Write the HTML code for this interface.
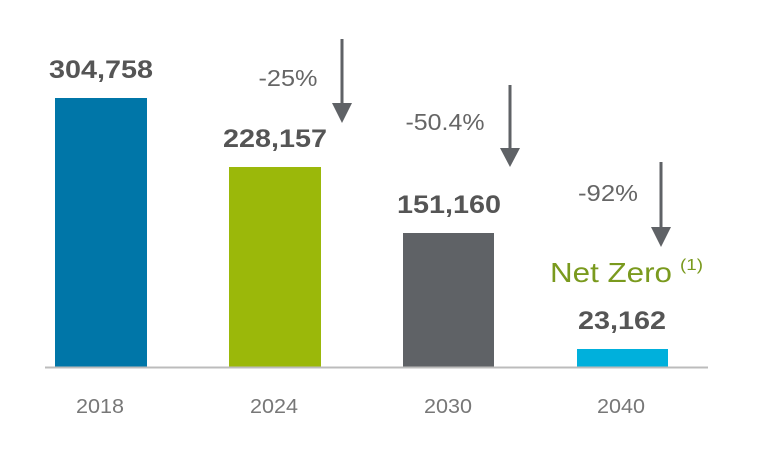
<!DOCTYPE html>
<html><head><meta charset="utf-8"><style>
html,body{margin:0;padding:0;background:#fff}
svg{display:block}
text{font-family:"Liberation Sans",sans-serif}
</style></head><body>
<svg width="768" height="464" viewBox="0 0 768 464">
<rect x="55" y="98" width="92" height="269" fill="#0076a8"/>
<rect x="229" y="167" width="92" height="200" fill="#9bb80a"/>
<rect x="403" y="233" width="91" height="134" fill="#5f6266"/>
<rect x="577" y="349" width="91" height="18" fill="#00b0dc"/>
<line x1="45" y1="367.5" x2="708" y2="367.5" stroke="#bcbcbc" stroke-width="2"/>
<g font-weight="bold" font-size="25" fill="#555" text-anchor="middle">
<text x="101" y="78" textLength="104" lengthAdjust="spacingAndGlyphs">304,758</text>
<text x="275" y="147" textLength="104" lengthAdjust="spacingAndGlyphs">228,157</text>
<text x="449" y="213" textLength="104" lengthAdjust="spacingAndGlyphs">151,160</text>
<text x="622" y="329" textLength="88" lengthAdjust="spacingAndGlyphs">23,162</text>
</g>
<g font-size="20" fill="#777" text-anchor="middle">
<text x="100" y="413" textLength="48" lengthAdjust="spacingAndGlyphs">2018</text>
<text x="274" y="413" textLength="48" lengthAdjust="spacingAndGlyphs">2024</text>
<text x="448" y="413" textLength="48" lengthAdjust="spacingAndGlyphs">2030</text>
<text x="621" y="413" textLength="48" lengthAdjust="spacingAndGlyphs">2040</text>
</g>
<g font-size="23" fill="#666" text-anchor="middle">
<text x="288" y="86" textLength="59" lengthAdjust="spacingAndGlyphs">-25%</text>
<text x="445" y="130" textLength="79" lengthAdjust="spacingAndGlyphs">-50.4%</text>
<text x="608" y="201" textLength="60" lengthAdjust="spacingAndGlyphs">-92%</text>
</g>
<g fill="#5f6266" stroke="#5f6266">
<line x1="342" y1="39" x2="342" y2="105" stroke-width="3"/>
<polygon points="332,103 352,103 342,123" stroke="none"/>
<line x1="510" y1="85" x2="510" y2="150" stroke-width="3"/>
<polygon points="500,148 520,148 510,167" stroke="none"/>
<line x1="661" y1="162" x2="661" y2="229" stroke-width="3"/>
<polygon points="651,227 671,227 661,247" stroke="none"/>
</g>
<text x="550" y="282" font-size="28" fill="#7a9a1e" textLength="122" lengthAdjust="spacingAndGlyphs">Net Zero</text>
<text x="680" y="270" font-size="16" fill="#7a9a1e" textLength="23" lengthAdjust="spacingAndGlyphs">(1)</text>
</svg>
</body></html>
